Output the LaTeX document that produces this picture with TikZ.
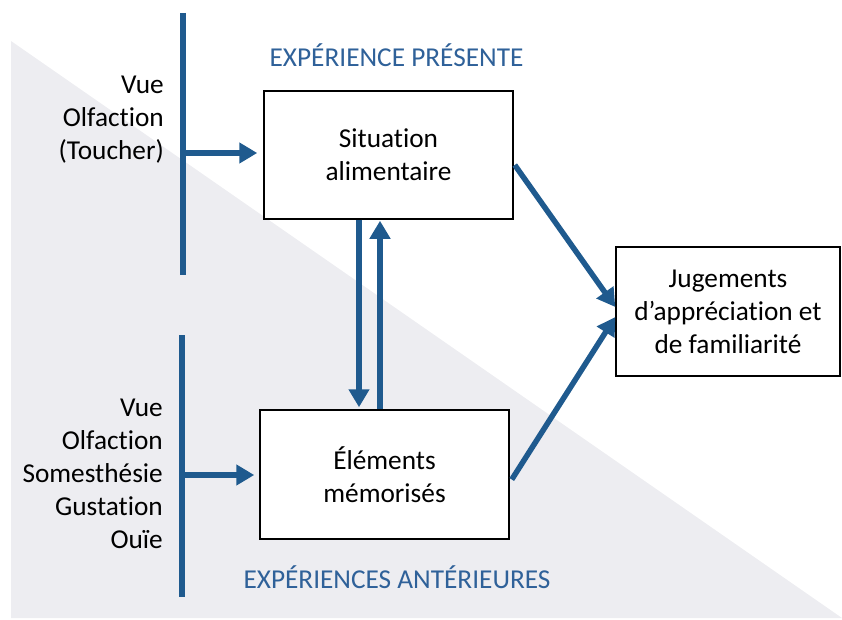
\documentclass[tikz,border=0pt]{standalone}
\usepackage{fontspec}
\setmainfont{Carlito}[Ligatures={NoCommon}]
\usetikzlibrary{arrows.meta,calc}
\definecolor{arrowblue}{HTML}{1F5A8E}
\definecolor{headblue}{HTML}{2F6199}
\definecolor{bggray}{HTML}{EDEDF1}
\tikzset{
  box/.style={draw=black,line width=1.5pt,fill=white,inner sep=0pt,align=center,font=\fontsize{27.3}{33}\selectfont},
  sense/.style={inner sep=0pt,align=right,anchor=east,font=\fontsize{27.3}{33}\selectfont},
  heading/.style={inner sep=0pt,text=headblue,font=\fontsize{27.3}{30}\selectfont},
  bar/.style={draw=arrowblue,line width=5.5pt},
  flow/.style={draw=arrowblue,line width=5.5pt,-{Triangle[length=18pt,width=20pt]}},
}
\begin{document}
\begin{tikzpicture}[x=1pt,y=-1pt]
\useasboundingbox (0,0) rectangle (842,620);
\fill[bggray] (11,41) -- (842,618) -- (11,618) -- cycle;
% bars
\coordinate (t1) at (183,13);
\coordinate (t2) at (183,275);
\coordinate (u1) at (182,335);
\coordinate (u2) at (182,597);
\draw[bar] (t1) -- (t2);
\draw[bar] (u1) -- (u2);
% boxes
\node[box,minimum width=249pt,minimum height=128pt] (b1) at (388.5,155) {Situation\\alimentaire};
\node[box,minimum width=249pt,minimum height=129pt] (b2) at (384.5,474.5) {Éléments\\mémorisés};
\node[box,minimum width=224pt,minimum height=129pt] (b3) at (728,311.5) {Jugements\\d’appréciation et\\de familiarité};
% headings
\node[heading] (h1) at (396.5,55) {EXPÉRIENCE PRÉSENTE};
\node[heading] (h2) at (397,577) {EXPÉRIENCES ANTÉRIEURES};
% senses
\node[sense] (s1) at (164,119.5) {Vue\\Olfaction\\(Toucher)};
\node[sense] (s2) at (163,474) {Vue\\Olfaction\\Somesthésie\\Gustation\\Ouïe};
% connectors
\coordinate (a1) at (183,153);
\coordinate (a2) at (182,475);
\draw[flow,shorten >=6pt] (a1) -- (a1 -| b1.west);
\draw[flow,shorten >=5pt] (a2) -- (a2 -| b2.west);
\draw[flow,shorten >=2pt] (b1.south -| 359,0) -- (b2.north -| 359,0);
\draw[flow,shorten >=1pt] (b2.north -| 380,0) -- (b1.south -| 380,0);
\draw[flow] ($(b1.east)+(1,10)$) -- ($(b3.west)+(0,-4.5)$);
\draw[flow] ($(b2.east)+(2,5)$) -- ($(b3.west)+(0,5.5)$);
\end{tikzpicture}
\end{document}
